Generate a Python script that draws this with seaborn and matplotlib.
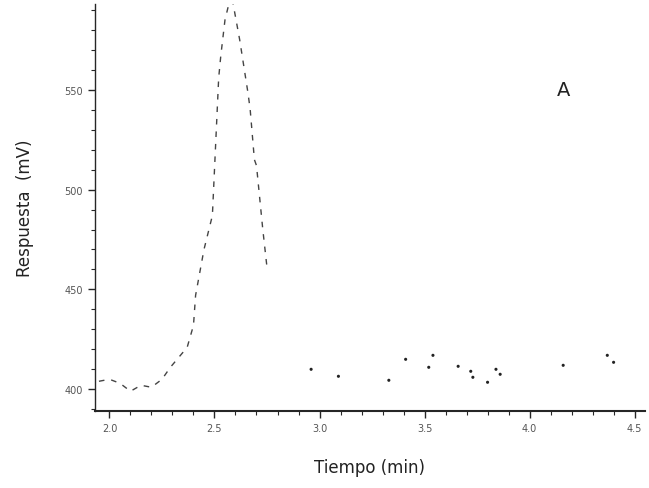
import matplotlib
matplotlib.use("Agg")
import matplotlib.pyplot as plt
import seaborn as sns
import pandas as pd
from matplotlib.ticker import MultipleLocator

# Peak trace (min, mV)
peak_t = [1.95, 2.00, 2.05, 2.10, 2.15, 2.20, 2.25, 2.29, 2.33, 2.37, 2.40, 2.41,
          2.45, 2.49, 2.52, 2.53, 2.55, 2.58, 2.62, 2.66, 2.67, 2.69, 2.70, 2.73, 2.75]
peak_v = [404, 405, 403, 399, 402, 401, 405, 411, 416, 421, 432, 447,
          470, 487, 556, 567, 585, 598, 575, 548, 540, 515, 512, 480, 461]

# Scattered baseline points after the peak
base_t = [2.96, 3.09, 3.33, 3.41, 3.52, 3.54, 3.66, 3.72, 3.73, 3.80, 3.84, 3.86, 4.16, 4.37, 4.40]
base_v = [410, 406.5, 404.5, 415, 411, 417, 411.5, 409, 406, 403.5, 410, 407.5, 412, 417, 413.5]

x_ticks = [2.0, 2.5, 3.0, 3.5, 4.0, 4.5]
x_labels = ["2.0", "2.5", "3.0", "3.5", "4.0", "4.5"]
y_ticks = [400, 450, 500, 550]
y_labels = ["400", "450", "500", "550"]

sns.set_style("ticks")
plt.rcParams['font.family'] = ['DejaVu Sans']

fig = plt.figure(figsize=(6.49, 4.89), dpi=100)
ax = fig.add_axes([0.146, 0.157, 0.848, 0.833])

peak_df = pd.DataFrame({"t": peak_t, "v": peak_v})
base_df = pd.DataFrame({"t": base_t, "v": base_v})

sns.lineplot(data=peak_df, x="t", y="v", ax=ax, color="#444444", lw=1.0,
             linestyle=(0, (4, 5)), sort=False)
sns.scatterplot(data=base_df, x="t", y="v", ax=ax, color="#222222", s=5, edgecolor="none")

ax.set_xlim(1.93, 4.55)
ax.set_ylim(389, 593)
ax.set_xticks(x_ticks)
ax.set_xticklabels(x_labels)
ax.set_yticks(y_ticks)
ax.set_yticklabels(y_labels)
ax.xaxis.set_minor_locator(MultipleLocator(0.1))
ax.yaxis.set_minor_locator(MultipleLocator(10))
ax.tick_params(axis="both", which="major", length=5, width=1, labelsize=7, labelcolor="#555555")
ax.tick_params(axis="both", which="minor", length=3, width=0.8)

for s in ["top", "right"]:
    ax.spines[s].set_visible(False)
ax.spines["left"].set_linewidth(1.0)
ax.spines["bottom"].set_linewidth(1.5)

ax.set_xlabel("Tiempo (min)", fontsize=12, color="#222222", labelpad=18)
ax.set_ylabel("Respuesta  (mV)", fontsize=12, color="#222222", labelpad=22)

ax.text(4.16, 550, "A", fontsize=14, ha="center", va="center", color="#222222")

fig.savefig("out.png", dpi=100)
